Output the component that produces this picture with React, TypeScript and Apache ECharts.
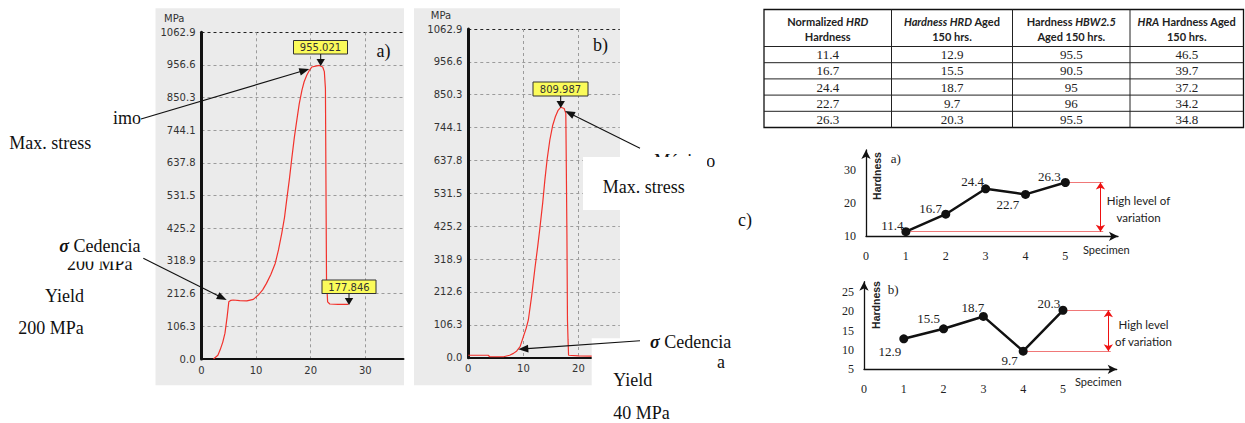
import React, { useEffect, useRef } from 'react';
import * as echarts from 'echarts';

// ---------- Tensile curves (panels a and b) ----------
const stressTickLabels = ['0.0', '106.3', '212.6', '318.9', '425.2', '531.5', '637.8', '744.1', '850.3', '956.6', '1062.9'];
const stressStep = 106.29;
const stressMax = 1062.9;
const strainTickValues = [0, 10, 20, 30];
const strainTickLabels = ['0', '10', '20', '30'];
const strainMaxA = 37;
const strainMaxB = 27.5;

const strainA = [2.2, 3.0, 3.4, 3.9, 4.3, 4.7, 5.0, 5.4, 5.8, 7.0, 8.3, 9.5, 10.4, 11.2, 11.9, 12.7, 13.5, 14.1, 14.7, 15.2, 15.6, 16.1, 16.5, 17.0, 17.4, 17.9, 18.4, 18.8, 19.3, 19.8, 20.2, 20.9, 21.6, 22.2, 22.5, 22.7, 22.8, 22.9, 23.1, 23.5, 25.0, 26.6, 26.9];
const stressA = [0, 12, 29, 55, 84, 138, 186, 191, 192, 190, 189, 194, 208, 225, 246, 275, 311, 355, 409, 460, 517, 585, 647, 720, 770, 830, 875, 902, 924, 940, 950, 953, 955, 950, 935, 880, 560, 257, 186, 179, 178, 178, 178];

const strainB = [0, 3.6, 3.9, 6.4, 7.5, 8.2, 8.8, 9.4, 10.0, 10.5, 10.9, 11.5, 12.1, 12.6, 13.0, 13.5, 13.9, 14.3, 14.8, 15.3, 15.8, 16.3, 16.8, 17.4, 17.7, 17.8, 17.9, 18.0, 18.1, 18.2, 20.0, 22.4, 27.5];
const stressB = [8, 8, 3, 3, 8, 14, 22, 36, 68, 95, 122, 200, 290, 360, 420, 500, 575, 640, 704, 750, 779, 800, 810, 806, 790, 600, 400, 122, 60, 8, 6, 5, 5];

const peakA = 955.021;
const finalA = 177.846;
const peakB = 809.987;

// ---------- Hardness (table and panel c) ----------
const specimens = [1, 2, 3, 4, 5];
const specimenTickLabels = ['0', '1', '2', '3', '4', '5'];
const hrdNormalized = [11.4, 16.7, 24.4, 22.7, 26.3];
const hrdAged = [12.9, 15.5, 18.7, 9.7, 20.3];
const hbwAged = [95.5, 90.5, 95, 96, 95.5];
const hraAged = [46.5, 39.7, 37.2, 34.2, 34.8];
const hardnessTicksTop = ['10', '20', '30'];
const hardnessTicksBottom = ['5', '10', '15', '20', '25'];
const tableHeaders = [
  '{b|Normalized }{bi|HRD}\n{b|Hardness}',
  '{bi|Hardness HRD}{b| Aged}\n{b|150 hrs.}',
  '{b|Hardness }{bi|HBW2.5}\n{b|Aged 150 hrs.}',
  '{bi|HRA}{b| Hardness Aged}\n{b|150 hrs.}',
];

const SERIF = '"Liberation Serif", "Times New Roman", serif';
const SANS = '"Liberation Sans", Arial, sans-serif';
const CAL = 'Lato, "Liberation Sans", sans-serif';
const TAH = '"DejaVu Sans", Verdana, sans-serif';

function txt(text: string, x: number, y: number, font: string, align = 'left', extra: any = {}, z = 60) {
  return {
    type: 'text', x, y, z, silent: true,
    style: { text, font, fill: '#111', textAlign: align, align, textVerticalAlign: 'middle', verticalAlign: 'middle', ...extra },
  };
}

function arrow(x1: number, y1: number, x2: number, y2: number, head = 10, half = 3.8, color = '#111', width = 1.1, z = 60) {
  const dx = x2 - x1, dy = y2 - y1;
  const L = Math.hypot(dx, dy);
  const ux = dx / L, uy = dy / L;
  const bx = x2 - ux * head, by = y2 - uy * head;
  return [
    { type: 'line', z, silent: true, shape: { x1, y1, x2: bx + ux * 1, y2: by + uy * 1 }, style: { stroke: color, lineWidth: width } },
    { type: 'polygon', z, silent: true, shape: { points: [[x2, y2], [bx - uy * half, by + ux * half], [bx + uy * half, by - ux * half]] }, style: { fill: color } },
  ];
}

function valueBox(label: string, x: number, y: number, w: number, h: number, ax: number, tipY: number) {
  return [
    { type: 'rect', z: 60, silent: true, shape: { x, y, width: w, height: h }, style: { fill: '#fbfb5a', stroke: '#333', lineWidth: 1 } },
    txt(label, x + w / 2, y + h / 2 + 0.5, `10px ${TAH}`, 'center', { fill: '#333' }, 61),
    ...arrow(ax, y + h, ax, tipY, 7, 4.2, '#111', 1, 61),
  ];
}

function stressFormatter(v: number) {
  const i = Math.round(v / stressStep);
  return Math.abs(v - i * stressStep) < 1e-3 && i >= 0 && i < stressTickLabels.length ? stressTickLabels[i] : '';
}
function strainFormatter(v: number) {
  const i = strainTickValues.findIndex((t) => Math.abs(t - v) < 1e-6);
  return i >= 0 ? strainTickLabels[i] : '';
}

const GRID_GREY = '#9b9b9b';

function stressYAxis(gridIndex: number) {
  const colors = stressTickLabels.map((_, i) => (i === 0 ? 'transparent' : i === stressTickLabels.length - 1 ? '#222' : GRID_GREY));
  return {
    type: 'value', gridIndex, min: 0, max: stressMax, interval: stressStep,
    axisLine: { show: true, onZero: false, lineStyle: { color: '#111', width: 3 } },
    axisTick: { show: false },
    axisLabel: { margin: 6, color: '#333', fontSize: 10, fontFamily: TAH, formatter: stressFormatter },
    splitLine: { show: true, lineStyle: { color: colors, type: [3, 3], width: 1 } },
  };
}
function strainXAxis(gridIndex: number, max: number, lineColors: string[]) {
  return {
    type: 'value', gridIndex, min: 0, max, interval: 10,
    axisLine: { show: true, onZero: false, lineStyle: { color: '#111', width: 2 } },
    axisTick: { show: false },
    axisLabel: { margin: 6, color: '#333', fontSize: 10, fontFamily: TAH, formatter: strainFormatter },
    splitLine: { show: true, lineStyle: { color: lineColors, type: [3, 3], width: 1 } },
  };
}
function specimenXAxis(gridIndex: number, max: number) {
  return {
    type: 'value', gridIndex, min: 0, max, interval: 1,
    axisLine: { show: true, onZero: false, symbol: ['none', 'arrow'], symbolSize: [7, 9], lineStyle: { color: '#111', width: 1.3 } },
    axisTick: { show: false },
    splitLine: { show: false },
    axisLabel: {
      margin: 14, color: '#222', fontSize: 12, fontFamily: SERIF,
      formatter: (v: number) => (Number.isInteger(v) && v >= 0 && v < specimenTickLabels.length ? specimenTickLabels[v] : ''),
    },
  };
}
function hardnessYAxis(gridIndex: number, min: number, max: number, interval: number, labels: string[]) {
  return {
    type: 'value', gridIndex, min, max, interval,
    axisLine: { show: true, onZero: false, symbol: ['none', 'arrow'], symbolSize: [7, 9], lineStyle: { color: '#111', width: 1.3 } },
    axisTick: { show: false },
    splitLine: { show: false },
    axisLabel: {
      margin: 10, color: '#222', fontSize: 12, fontFamily: SERIF,
      formatter: (v: number) => {
        const k = (v - min) / interval;
        const i = Math.round(k);
        return Math.abs(k - i) < 1e-6 && i < labels.length ? labels[i] : '';
      },
    },
  };
}

export default function App() {
  const ref = useRef<HTMLDivElement>(null);

  useEffect(() => {
    const chart = echarts.init(ref.current!, null, { renderer: 'svg' });

    const topOffsets = [[-13.5, -6], [-15, -6], [-13, -7.5], [-17.5, 10.5], [-16, -6]];
    const botOffsets = [[-14, 12.5], [-15, -10], [-10.5, -8.5], [-13.5, 9.5], [-14, -7]];
    const maxTop = Math.max(...hrdNormalized), minTop = Math.min(...hrdNormalized);
    const maxBot = Math.max(...hrdAged), minBot = Math.min(...hrdAged);
    const iMaxBot = hrdAged.indexOf(maxBot), iMinBot = hrdAged.indexOf(minBot);

    const hardSeries = (idx: number, values: number[], offsets: number[][], marks: any[]) => ({
      type: 'line', xAxisIndex: idx, yAxisIndex: idx, silent: true,
      data: specimens.map((s, i) => ({ value: [s, values[i]], label: { offset: offsets[i] } })),
      symbol: 'circle', symbolSize: 9, showSymbol: true,
      itemStyle: { color: '#111' },
      lineStyle: { color: '#111', width: 2.5 },
      label: {
        show: true, position: 'inside', color: '#222', fontSize: 13, fontFamily: SERIF,
        formatter: (p: any) => String(p.value[1]),
      },
      markLine: {
        silent: true, symbol: ['none', 'none'], symbolSize: 7, label: { show: false },
        lineStyle: { color: '#f07878', width: 1, type: 'solid' },
        emphasis: { disabled: true },
        data: marks,
      },
      z: 5,
    });

    const topMarks = [
      [{ coord: [specimens[4] + 0.09, maxTop] }, { coord: [5.95, maxTop] }],
      [{ coord: [specimens[0] + 0.08, minTop] }, { coord: [5.95, minTop] }],
      [
        { coord: [5.88, maxTop], symbol: 'arrow', lineStyle: { color: '#ee1111', width: 1 } },
        { coord: [5.88, minTop], symbol: 'arrow' },
      ],
    ];
    const botMarks = [
      [{ coord: [specimens[iMaxBot] + 0.08, maxBot] }, { coord: [6.2, maxBot] }],
      [{ coord: [specimens[iMinBot] + 0.08, minBot] }, { coord: [6.2, minBot] }],
      [
        { coord: [6.14, maxBot], symbol: 'arrow', lineStyle: { color: '#ee1111', width: 1 } },
        { coord: [6.14, minBot], symbol: 'arrow' },
      ],
    ];

    // ---- table ----
    const colX = [764, 891.5, 1012.5, 1130, 1243.5];
    const tY = 9.5, headH = 37, rowH = 16.2;
    const tBottom = tY + headH + rowH * 5;
    const tableCols = [hrdNormalized, hrdAged, hbwAged, hraAged];
    const tableEls: any[] = [
      { type: 'rect', z: 20, silent: true, shape: { x: colX[0], y: tY, width: colX[4] - colX[0], height: tBottom - tY }, style: { fill: 'none', stroke: '#111', lineWidth: 1.3 } },
    ];
    for (let c = 1; c < 4; c++) {
      tableEls.push({ type: 'line', z: 20, silent: true, shape: { x1: colX[c], y1: tY, x2: colX[c], y2: tBottom }, style: { stroke: '#222', lineWidth: 1 } });
    }
    for (let r = 0; r < 5; r++) {
      const y = tY + headH + r * rowH;
      tableEls.push({ type: 'line', z: 20, silent: true, shape: { x1: colX[0], y1: y, x2: colX[4], y2: y }, style: { stroke: '#222', lineWidth: 1 } });
    }
    tableHeaders.forEach((h, c) => {
      tableEls.push({
        type: 'text', z: 21, silent: true, x: (colX[c] + colX[c + 1]) / 2, y: tY + headH / 2 + 0.5,
        style: {
          text: h, textAlign: 'center', align: 'center', textVerticalAlign: 'middle', verticalAlign: 'middle',
          font: `bold 11px ${CAL}`, fill: '#222', lineHeight: 15,
          rich: {
            b: { font: `bold 11px ${CAL}`, fill: '#222', lineHeight: 15 },
            bi: { font: `italic bold 11px ${CAL}`, fill: '#222', lineHeight: 15 },
          },
        },
      });
    });
    tableCols.forEach((col, c) => {
      col.forEach((v, r) => {
        tableEls.push(txt(String(v), (colX[c] + colX[c + 1]) / 2, tY + headH + r * rowH + rowH / 2, `13px ${SERIF}`, 'center', { fill: '#222' }, 21));
      });
    });

    const sigmaRich = {
      s: { font: `italic bold 18px ${SERIF}`, fill: '#111' },
      r: { font: `18px ${SERIF}`, fill: '#111' },
    };

    const graphics: any[] = [
      // grey plot backgrounds
      { type: 'rect', z: -10, silent: true, shape: { x: 155.5, y: 8.3, width: 248.5, height: 377 }, style: { fill: '#ebebeb' } },
      { type: 'rect', z: -10, silent: true, shape: { x: 414, y: 8.3, width: 206, height: 377 }, style: { fill: '#ebebeb' } },
      txt('MPa', 164, 18.3, `10px ${TAH}`, 'left', { fill: '#333' }),
      txt('MPa', 430.8, 15, `10px ${TAH}`, 'left', { fill: '#333' }),

      // panel a annotations
      txt('a)', 376.5, 50.7, `18px ${SERIF}`),
      ...valueBox(peakA.toFixed(3), 293.5, 40.5, 54, 13.5, 320.7, 66),
      ...valueBox(finalA.toFixed(3), 322, 280, 54, 13.5, 349, 305),
      txt('imo', 113, 118, `18px ${SERIF}`),
      ...arrow(141, 119, 309.3, 69),
      txt('Max. stress', 9.3, 142.7, `18px ${SERIF}`),
      { type: 'text', z: 60, silent: true, x: 59.3, y: 245.7, style: { text: '{s|σ} {r|Cedencia}', font: `18px ${SERIF}`, fill: '#111', textVerticalAlign: 'middle', verticalAlign: 'middle', rich: sigmaRich } },
      txt('200 MPa', 67, 264, `18px ${SERIF}`, 'left', {}, 30),
      { type: 'rect', z: 40, silent: true, shape: { x: 60, y: 252.8, width: 80, height: 8.6 }, style: { fill: '#ffffff' } },
      ...arrow(143.3, 258.3, 226.7, 300),
      txt('Yield', 45, 296, `18px ${SERIF}`),
      txt('200 MPa', 18.3, 328, `18px ${SERIF}`),

      // panel b annotations
      txt('b)', 593, 45, `18px ${SERIF}`),
      ...valueBox(peakB.toFixed(3), 533, 82, 55, 14, 560.7, 108),
      { type: 'text', z: 30, silent: true, x: 640, y: 152, style: { text: '{s|σ} {r|Máximo}', font: `18px ${SERIF}`, fill: '#111', textVerticalAlign: 'top', verticalAlign: 'top', rich: sigmaRich } },
      { type: 'rect', z: 40, silent: true, shape: { x: 583, y: 157, width: 124, height: 53 }, style: { fill: '#ffffff' } },
      ...arrow(640, 148.3, 565, 111),
      txt('Max. stress', 602.7, 186.7, `18px ${SERIF}`),
      { type: 'rect', z: 40, silent: true, shape: { x: 591.7, y: 338.3, width: 140, height: 85 }, style: { fill: '#ffffff' } },
      { type: 'text', z: 60, silent: true, x: 650, y: 342, style: { text: '{s|σ} {r|Cedencia}', font: `18px ${SERIF}`, fill: '#111', textVerticalAlign: 'middle', verticalAlign: 'middle', rich: sigmaRich } },
      ...arrow(640, 340.7, 518.3, 349.3),
      txt('a', 717, 361.7, `18px ${SERIF}`),
      txt('Yield', 613.3, 380, `18px ${SERIF}`),
      txt('40 MPa', 613.3, 413, `18px ${SERIF}`),

      // panel c labels
      txt('c)', 738, 220, `18px ${SERIF}`),
      txt('a)', 890.7, 158, `13px ${SERIF}`, 'left', { fill: '#222' }),
      txt('b)', 887.7, 289, `13px ${SERIF}`, 'left', { fill: '#222' }),
      { type: 'text', z: 60, silent: true, x: 876.5, y: 176, rotation: Math.PI / 2, style: { text: 'Hardness', font: `bold 10.5px ${SANS}`, fill: '#222', textAlign: 'center', align: 'center', textVerticalAlign: 'middle', verticalAlign: 'middle' } },
      { type: 'text', z: 60, silent: true, x: 876, y: 305, rotation: Math.PI / 2, style: { text: 'Hardness', font: `bold 10.5px ${SANS}`, fill: '#222', textAlign: 'center', align: 'center', textVerticalAlign: 'middle', verticalAlign: 'middle' } },
      txt('Specimen', 1083, 249.3, `11px ${CAL}`, 'left', { fill: '#222' }),
      txt('Specimen', 1075, 381, `11px ${CAL}`, 'left', { fill: '#222' }),
      txt('High level of\nvariation', 1138.5, 209, `11.5px ${CAL}`, 'center', { fill: '#222', lineHeight: 16.6 }),
      txt('High level\nof variation', 1143.5, 332.5, `11.5px ${CAL}`, 'center', { fill: '#222', lineHeight: 17 }),

      ...tableEls,
    ];

    const option: any = {
      animation: false,
      backgroundColor: '#ffffff',
      grid: [
        { left: 201.5, top: 32.3, width: 202, height: 326.7, outerBoundsMode: 'none' },
        { left: 468.3, top: 29, width: 151.5, height: 328.7, outerBoundsMode: 'none' },
        { left: 866, top: 150, width: 252, height: 86.3, outerBoundsMode: 'none' },
        { left: 864, top: 281.7, width: 252.7, height: 87.6, outerBoundsMode: 'none' },
      ],
      xAxis: [
        strainXAxis(0, strainMaxA, ['transparent', GRID_GREY, GRID_GREY, GRID_GREY, 'transparent']),
        strainXAxis(1, strainMaxB, ['transparent', GRID_GREY, GRID_GREY, 'transparent']),
        specimenXAxis(2, 6.32),
        specimenXAxis(3, 6.35),
      ],
      yAxis: [
        stressYAxis(0),
        stressYAxis(1),
        hardnessYAxis(2, 10, 36.15, 10, hardnessTicksTop),
        hardnessYAxis(3, 5, 27.7, 5, hardnessTicksBottom),
      ],
      series: [
        {
          type: 'line', xAxisIndex: 0, yAxisIndex: 0, silent: true, symbol: 'none', showSymbol: false,
          data: strainA.map((x, i) => [x, stressA[i]]),
          lineStyle: { color: '#f2322c', width: 1.2 }, z: 3,
        },
        {
          type: 'line', xAxisIndex: 1, yAxisIndex: 1, silent: true, symbol: 'none', showSymbol: false,
          data: strainB.map((x, i) => [x, stressB[i]]),
          lineStyle: { color: '#f2322c', width: 1.2 }, z: 3,
        },
        hardSeries(2, hrdNormalized, topOffsets, topMarks),
        hardSeries(3, hrdAged, botOffsets, botMarks),
      ],
      graphic: { elements: graphics },
    };

    chart.setOption(option);
    return () => chart.dispose();
  }, []);

  return <div ref={ref} style={{ position: 'absolute', left: 0, top: 0, width: 1245, height: 423 }} />;
}
